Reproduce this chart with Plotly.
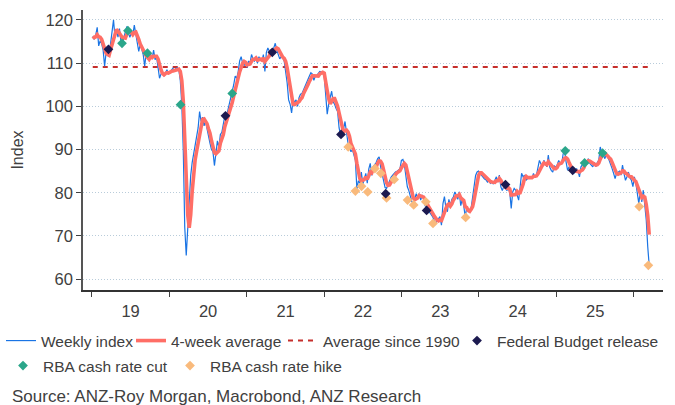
import pandas as pd
import plotly.graph_objects as go

# ---------------- data ----------------
start_date = "2019-01-05"

weekly_index = [
    116.2, 115.5, 116.5, 118.3, 114.0, 115.2, 114.5, 113.0, 109.3, 112.5,
    113.2, 112.0, 114.5, 117.5, 120.0, 116.0, 117.5, 116.0, 118.0, 115.0,
    114.6, 116.0, 117.5, 118.5, 117.0, 116.0, 117.0, 116.5, 118.8, 116.5,
    114.0, 112.7, 114.5, 113.0, 112.0, 109.3, 112.3, 111.5, 110.5, 112.0,
    111.0, 113.0, 110.8, 111.5, 108.5, 106.5, 107.5, 108.0, 107.0, 107.8,
    108.5, 107.5, 108.0, 108.3, 108.8, 108.2, 108.8, 109.0, 108.5, 106.0,
    100.5, 90.0, 72.0, 65.5, 72.0, 78.0, 84.0, 87.0, 89.0, 90.5,
    92.0, 95.0, 98.8, 96.5, 97.5, 95.5, 96.5, 94.5, 92.5, 91.5,
    90.0, 89.5, 86.3, 90.0, 92.0, 90.5, 93.5, 94.0, 95.8, 97.8,
    97.5, 99.0, 100.2, 101.5, 103.0, 105.0, 107.0, 106.5, 108.0, 110.5,
    111.5, 110.0, 109.5, 109.8, 109.0, 110.5, 110.0, 112.0, 111.0, 110.5,
    111.2, 110.0, 111.5, 110.8, 110.5, 112.0, 108.1, 112.5, 113.5, 112.8,
    112.0, 112.5, 113.8, 114.6, 113.0, 111.8, 111.0, 111.5, 111.2, 110.5,
    108.5, 105.5, 101.5, 100.5, 98.5, 101.5, 101.0, 101.5, 100.0, 102.0,
    102.8, 103.0, 103.8, 104.5, 105.5, 106.0, 107.0, 107.8, 107.5, 106.0,
    107.0, 107.2, 107.8, 108.1, 108.0, 107.8, 107.0, 101.5, 98.2, 100.5,
    102.0, 103.5, 101.0, 100.5, 99.5, 98.8, 95.0, 93.5, 93.0, 94.5,
    96.5, 94.0, 91.5, 90.5, 89.5, 90.0, 89.0, 87.5, 80.8, 82.8,
    82.2, 84.8, 82.0, 83.5, 84.5, 82.2, 85.5, 86.8, 84.0, 86.0,
    86.5, 87.0, 87.9, 88.3, 86.0, 84.5, 82.5, 81.2, 81.0, 82.0,
    82.8, 83.6, 84.0, 84.5, 84.8, 85.0, 85.2, 85.5, 87.5, 87.7,
    86.5, 84.0, 81.4, 80.5, 79.2, 78.0, 77.5, 79.0, 79.8, 78.8,
    79.8, 78.3, 79.5, 78.5, 77.0, 76.5, 76.0, 75.5, 75.2, 74.5,
    73.7, 72.9, 73.5, 74.0, 74.5, 72.5, 77.5, 79.1, 76.5, 75.6,
    78.5, 77.0, 78.5, 79.0, 80.2, 79.5, 78.5, 80.2, 77.0, 78.5,
    77.0, 74.5, 76.5, 75.6, 76.0, 76.5, 79.0, 82.2, 84.0, 84.8,
    85.0, 84.5, 84.0, 83.7, 83.2, 83.0, 82.5, 82.8, 82.2, 82.5,
    82.0, 82.9, 83.7, 82.5, 84.1, 81.4, 80.5, 81.5, 81.9, 80.5,
    81.0, 80.2, 76.4, 80.2, 81.0, 80.6, 79.5, 78.3, 81.4, 84.5,
    83.7, 84.1, 82.9, 83.3, 83.7, 83.7, 83.3, 84.5, 83.5, 84.1,
    85.5, 87.5, 86.7, 85.9, 87.5, 86.7, 86.0, 88.7, 85.9, 85.2,
    84.8, 86.3, 85.9, 86.5, 87.5, 86.7, 86.7, 89.0, 89.7, 87.1,
    85.2, 86.0, 85.5, 85.2, 84.5, 84.8, 85.6, 85.0, 83.7, 86.0,
    86.5, 86.9, 87.5, 87.1, 87.9, 86.8, 86.5, 86.0, 87.1, 86.0,
    87.0, 87.5, 90.6, 89.2, 89.1, 87.9, 88.7, 88.3, 87.5, 86.7,
    85.6, 84.5, 83.3, 84.5, 84.8, 85.0, 84.1, 86.4, 84.5, 82.9,
    83.7, 84.8, 83.5, 82.9, 81.4, 83.7, 82.2, 79.5, 77.5, 80.6,
    77.9, 80.6, 76.8, 73.7, 67.5, 63.1,
]

four_week_avg = [
    116.2, 115.9, 116.1, 116.6, 116.1, 116.0, 115.5, 114.2, 113.0, 112.3,
    112.0, 111.8, 113.1, 114.3, 116.0, 117.0, 117.8, 117.4, 116.9, 116.6,
    115.9, 115.9, 115.8, 116.7, 117.3, 117.3, 117.1, 116.6, 117.1, 117.2,
    116.5, 115.5, 114.4, 113.6, 113.1, 112.2, 111.7, 111.3, 110.9, 111.6,
    111.3, 111.6, 111.7, 111.6, 111.0, 109.3, 108.5, 107.6, 107.3, 107.6,
    107.8, 107.7, 108.0, 108.1, 108.2, 108.3, 108.5, 108.7, 108.6, 108.1,
    106.0, 101.3, 92.1, 82.0, 74.9, 71.9, 74.9, 80.3, 84.5, 87.6,
    89.6, 91.6, 94.1, 95.6, 97.0, 97.1, 96.5, 96.0, 94.8, 93.8,
    92.1, 90.9, 89.3, 89.0, 89.5, 89.7, 91.5, 92.5, 93.5, 95.3,
    96.3, 97.5, 98.6, 99.6, 100.9, 102.4, 104.1, 105.4, 106.6, 108.0,
    109.1, 110.0, 110.4, 110.2, 109.6, 109.7, 109.8, 110.4, 110.9, 110.9,
    111.2, 110.7, 110.8, 110.9, 110.7, 111.2, 110.4, 110.8, 111.5, 111.7,
    112.7, 112.7, 112.8, 113.2, 113.5, 113.3, 112.6, 111.8, 111.4, 111.1,
    110.4, 108.9, 106.5, 104.0, 101.5, 100.5, 100.4, 100.6, 101.0, 101.1,
    101.6, 102.0, 102.9, 103.5, 104.2, 105.0, 105.8, 106.6, 107.1, 107.1,
    107.1, 106.9, 107.0, 107.5, 107.8, 107.9, 107.7, 106.1, 103.6, 101.8,
    100.6, 101.1, 101.8, 101.8, 101.1, 100.0, 98.5, 96.7, 95.1, 94.0,
    94.4, 94.5, 94.1, 93.1, 91.4, 90.4, 89.8, 89.0, 86.8, 85.0,
    83.3, 82.7, 83.0, 83.1, 83.7, 83.1, 83.9, 84.8, 84.6, 85.6,
    85.8, 85.9, 86.9, 87.4, 87.3, 86.7, 85.3, 83.6, 82.3, 81.7,
    81.8, 82.4, 83.1, 83.7, 84.2, 84.6, 84.9, 85.1, 85.8, 86.5,
    86.8, 86.4, 84.9, 83.1, 81.3, 79.8, 78.8, 78.4, 78.6, 78.8,
    79.4, 79.2, 79.1, 79.0, 78.3, 77.9, 77.0, 76.3, 75.8, 75.3,
    74.7, 74.1, 73.7, 73.5, 73.7, 73.6, 74.6, 75.9, 76.4, 77.2,
    77.4, 76.9, 77.4, 78.3, 78.7, 79.3, 79.3, 79.6, 78.8, 78.6,
    78.2, 76.8, 76.6, 75.9, 75.7, 76.2, 76.8, 78.4, 80.4, 82.5,
    84.0, 84.6, 84.6, 84.3, 83.9, 83.5, 83.1, 82.9, 82.6, 82.5,
    82.4, 82.4, 82.8, 82.8, 83.3, 82.9, 82.1, 81.9, 81.3, 81.1,
    81.2, 80.9, 79.5, 79.5, 79.5, 79.6, 80.3, 79.9, 80.0, 80.9,
    82.0, 83.4, 83.8, 83.5, 83.5, 83.4, 83.5, 83.8, 83.8, 83.9,
    84.4, 85.2, 86.0, 86.4, 86.9, 86.7, 86.5, 87.2, 86.8, 86.5,
    86.2, 85.6, 85.6, 85.9, 86.6, 86.7, 86.9, 87.5, 88.0, 88.1,
    87.8, 87.0, 86.0, 85.5, 85.3, 85.0, 85.0, 85.0, 84.8, 85.1,
    85.3, 85.8, 86.7, 87.0, 87.4, 87.3, 87.1, 86.8, 86.6, 86.4,
    86.5, 86.9, 87.8, 88.6, 89.1, 89.2, 88.7, 88.5, 88.1, 87.8,
    87.0, 86.1, 85.0, 84.5, 84.3, 84.4, 84.6, 85.1, 85.0, 84.5,
    84.4, 84.0, 83.7, 83.7, 83.2, 82.9, 82.6, 81.7, 80.7, 80.0,
    78.9, 79.2, 79.0, 77.3, 74.7, 70.3,
]

average_since_1990 = 109.1

budget_dates = ["2019-03-20", "2020-09-22", "2021-05-01", "2022-03-21",
                "2022-10-18", "2023-04-29", "2024-05-05", "2025-03-18"]
budget_vals = [113.2, 97.8, 112.5, 93.5, 79.8, 75.9, 81.9, 85.2]

cut_dates = ["2019-05-23", "2019-06-20", "2019-09-20", "2020-02-23",
             "2020-10-24", "2025-02-11", "2025-05-13", "2025-08-06"]
cut_vals = [114.6, 117.5, 112.3, 100.4, 103.0, 89.7, 86.9, 89.2]

hike_dates = ["2022-04-24", "2022-05-28", "2022-06-26", "2022-07-25",
              "2022-08-28", "2022-09-25", "2022-10-22", "2022-11-27",
              "2023-01-29", "2023-02-27", "2023-04-25", "2023-05-29",
              "2023-10-30", "2026-01-26", "2026-03-10"]
hike_vals = [90.6, 80.4, 81.5, 80.2, 85.6, 84.5, 78.8, 83.1,
             78.3, 77.2, 77.9, 72.9, 74.3, 76.8, 63.2]

y_ticks = [60, 70, 80, 90, 100, 110, 120]

# ---------------- figure ----------------
dates = pd.date_range(start_date, periods=len(weekly_index), freq="7D")

W, H = 675, 405
TXT = "#404040"
FONT = "Liberation Sans, Arial, sans-serif"
MSIZE = 7.5
LEG_FONT = 15.5

fig = go.Figure()

fig.add_trace(go.Scatter(
    x=[dates[0], dates[-1]], y=[average_since_1990, average_since_1990],
    mode="lines", name="Average since 1990",
    line=dict(color="#C62F2C", width=2, dash="5px,5px"),
    legend="legend3", hoverinfo="skip"))

fig.add_trace(go.Scatter(
    x=dates, y=weekly_index, mode="lines", name="Weekly index",
    line=dict(color="#1A74E4", width=1.2), legend="legend"))

fig.add_trace(go.Scatter(
    x=dates, y=four_week_avg, mode="lines", name="4-week average",
    line=dict(color="#FF6E66", width=3.6), legend="legend2"))

fig.add_trace(go.Scatter(
    x=hike_dates, y=hike_vals, mode="markers", name="RBA cash rate hike",
    marker=dict(symbol="diamond", size=MSIZE, color="#F9BA7C"),
    legend="legend6"))

fig.add_trace(go.Scatter(
    x=cut_dates, y=cut_vals, mode="markers", name="RBA cash rate cut",
    marker=dict(symbol="diamond", size=MSIZE, color="#2BA68A"),
    legend="legend5"))

fig.add_trace(go.Scatter(
    x=budget_dates, y=budget_vals, mode="markers", name="Federal Budget release",
    marker=dict(symbol="diamond", size=MSIZE, color="#1C1A50"),
    legend="legend4"))


def leg(x_px, y_px):
    return dict(orientation="h", xref="container", yref="container",
                x=x_px / W, xanchor="left", y=1 - y_px / H, yanchor="middle",
                font=dict(size=LEG_FONT, color=TXT, family=FONT),
                bgcolor="rgba(0,0,0,0)", borderwidth=0)


fig.update_layout(
    width=W, height=H,
    margin=dict(l=83, r=12, t=10, b=115, autoexpand=False),
    paper_bgcolor="white", plot_bgcolor="white",
    font=dict(family=FONT, color=TXT, size=16),
    showlegend=True,
    legend=leg(1, 341), legend2=leg(131, 341), legend3=leg(283, 341),
    legend4=leg(457, 341), legend5=leg(3, 366), legend6=leg(170, 366),
    annotations=[dict(text="Source: ANZ-Roy Morgan, Macrobond, ANZ Research",
                      xref="paper", yref="paper", x=-0.126, y=-0.379,
                      xanchor="left", yanchor="middle", showarrow=False,
                      font=dict(size=17, color=TXT, family=FONT))],
)

fig.update_xaxes(
    type="date", range=["2018-11-20", "2026-05-18"], automargin=False,
    tick0="2019-01-01", dtick="M12", tickformat="%y", ticklabelmode="period",
    ticks="outside", ticklen=5, tickcolor=TXT, tickwidth=1,
    showline=True, linecolor="#333333", linewidth=1.5,
    showgrid=False, zeroline=False,
    tickfont=dict(size=16.5, color=TXT))

fig.update_yaxes(
    range=[57.5, 122.3], tickvals=y_ticks, automargin=False,
    ticks="outside", ticklen=5, tickcolor=TXT, tickwidth=1,
    showline=True, linecolor="#555555", linewidth=1.5,
    showgrid=True, gridcolor="#B9CCDA", gridwidth=1, griddash="1px,2px",
    zeroline=False,
    tickfont=dict(size=16.5, color=TXT),
    title=dict(text="Index", font=dict(size=16, color=TXT), standoff=18))

fig.write_html("out.html",
               config={"displayModeBar": False},
               post_script="document.body.style.margin='0px';"
                           "document.body.style.overflow='hidden';")
